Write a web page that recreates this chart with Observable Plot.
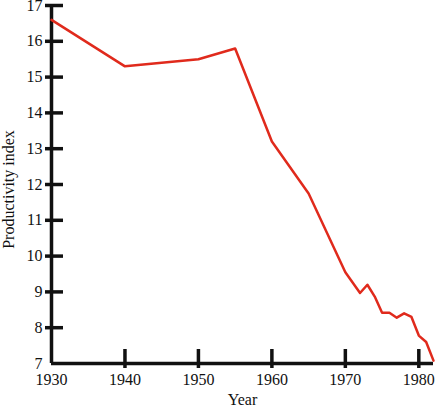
<!DOCTYPE html>
<html>
<head>
<meta charset="utf-8">
<script src="https://cdn.jsdelivr.net/npm/d3@7"></script>
<script src="https://cdn.jsdelivr.net/npm/@observablehq/plot@0.6"></script>
<style>
  html, body { margin: 0; padding: 0; background: #fff; }
</style>
</head>
<body>
<div id="chart"></div>
<script>
const years = [1930, 1940, 1950, 1955, 1960, 1965, 1970, 1972, 1973, 1974, 1975, 1976, 1977, 1978, 1979, 1980, 1981, 1982];
const productivity = [16.6, 15.3, 15.5, 15.8, 13.2, 11.75, 9.55, 8.97, 9.2, 8.87, 8.42, 8.42, 8.28, 8.4, 8.3, 7.78, 7.6, 7.08];
const xTickMarks = [1940, 1950, 1960, 1970, 1980];
const xTickLabels = [1930, 1940, 1950, 1960, 1970, 1980];
const yTickMarks = [8, 9, 10, 11, 12, 13, 14, 15, 16, 17];
const yTickLabels = [7, 8, 9, 10, 11, 12, 13, 14, 15, 16, 17];
const xDomain = [1930, 1982];
const yDomain = [7, 17];

const data = years.map((y, i) => ({year: y, value: productivity[i]}));
const axisColor = "#111";
const lineColor = "#e02a1c";

const chart = Plot.plot({
  width: 437,
  height: 407,
  marginLeft: 51,
  marginRight: 4,
  marginTop: 5,
  marginBottom: 44,
  style: {fontFamily: "'Liberation Serif', 'Times New Roman', serif", fontSize: "16px", color: "#111", background: "#fff"},
  x: {domain: xDomain},
  y: {domain: yDomain},
  marks: [
    Plot.axisX(xTickMarks, {tickSize: 19, dy: -14, tickFormat: () => "", stroke: axisColor, strokeWidth: 3.5, label: null}),
    Plot.axisX(xTickLabels, {tickSize: 0, tickPadding: 10, tickFormat: d => String(d), fill: axisColor, fontSize: 16, label: null}),
    Plot.axisY(yTickMarks, {tickSize: 18, dx: 12, tickFormat: () => "", stroke: axisColor, strokeWidth: 3.5, label: null}),
    Plot.axisY(yTickLabels, {tickSize: 0, tickPadding: 9, fill: axisColor, fontSize: 16, label: null}),
    Plot.ruleX([xDomain[0]], {y1: yDomain[0], y2: yDomain[1], stroke: axisColor, strokeWidth: 3.5}),
    Plot.ruleY([yDomain[0]], {x1: xDomain[0], x2: xDomain[1], stroke: axisColor, strokeWidth: 3.5}),
    Plot.line(data, {x: "year", y: "value", stroke: lineColor, strokeWidth: 2.5}),
    Plot.text(["Year"], {frameAnchor: "bottom", dy: 41, text: d => d, fontSize: 16, fill: axisColor}),
    Plot.text(["Productivity index"], {frameAnchor: "left", textAnchor: "middle", dx: -43, dy: 5, rotate: -90, text: d => d, fontSize: 16, fill: axisColor})
  ]
});
document.getElementById("chart").appendChild(chart);
</script>
</body>
</html>
